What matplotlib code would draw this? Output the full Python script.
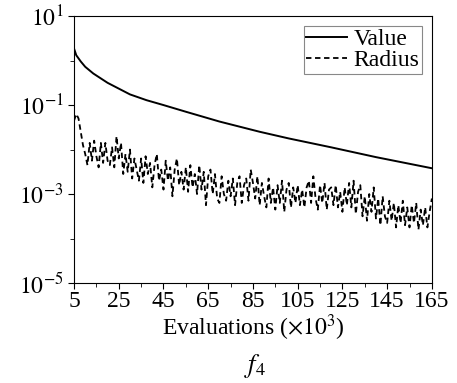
import matplotlib
matplotlib.use("Agg")
import matplotlib.pyplot as plt
import numpy as np

# evaluations (x10^3)
value_x = [5, 6, 8, 10, 13.6, 20, 30, 37.4, 45, 55, 70, 88, 101, 120, 140, 165]
value_log10 = [0.27, 0.12, -0.02, -0.14, -0.29, -0.50, -0.76, -0.89, -1.0,
               -1.15, -1.37, -1.60, -1.75, -1.95, -2.17, -2.42]

radius_x = list(range(5, 166))
radius_log10 = [
    -1.35, -1.20, -1.30, -1.60, -1.90, -2.10, -2.35, -1.85, -2.25, -1.80,
    -2.15, -2.40, -1.85, -2.30, -1.85, -2.25, -2.35, -1.95, -2.40, -1.70,
    -2.20, -1.85, -2.55, -2.10, -2.50, -2.00, -2.65, -2.20, -2.45, -2.70,
    -2.20, -2.75, -2.15, -2.55, -2.30, -2.85, -2.35, -2.10, -2.70, -2.45,
    -2.90, -2.25, -2.70, -2.40, -3.05, -2.45, -2.20, -2.80, -2.50, -2.90,
    -2.40, -2.95, -2.35, -2.85, -2.55, -3.00, -2.35, -2.90, -2.50, -3.25,
    -2.60, -2.45, -3.00, -2.55, -3.10, -3.20, -2.60, -3.00, -3.15, -2.70,
    -3.05, -2.65, -3.25, -2.75, -2.60, -3.20, -2.80, -2.65, -3.15, -2.45,
    -2.75, -3.10, -2.60, -3.25, -2.75, -3.05, -3.30, -2.65, -3.20, -2.85,
    -3.35, -2.80, -3.20, -2.70, -3.40, -2.90, -2.75, -3.30, -2.85, -3.20,
    -2.80, -3.25, -2.90, -3.30, -2.85, -2.70, -3.20, -2.60, -3.10, -3.35,
    -2.80, -3.20, -2.75, -3.35, -2.90, -2.85, -3.25, -2.80, -3.30, -2.95,
    -3.40, -2.85, -3.25, -2.75, -3.30, -2.70, -3.45, -2.95, -2.80, -3.50,
    -3.05, -3.60, -3.00, -3.40, -2.85, -3.55, -3.10, -3.70, -3.05, -3.50,
    -3.65, -3.15, -3.60, -3.20, -3.75, -3.25, -3.65, -3.15, -3.70, -3.30,
    -3.75, -3.25, -3.65, -3.20, -3.80, -3.35, -3.70, -3.30, -3.75, -3.40,
    -3.10,
]

x_ticks = [5, 25, 45, 65, 85, 105, 125, 145, 165]
y_ticks = [1e-5, 1e-3, 1e-1, 1e1]

plt.rcParams['font.family'] = 'Liberation Serif'
plt.rcParams['mathtext.fontset'] = 'stix'

fig = plt.figure(figsize=(4.57, 3.83), dpi=100)
ax = fig.add_axes([0.162, 0.261, 0.783, 0.697])

ax.plot(value_x, 10 ** np.array(value_log10), color='black', lw=1.4, label='Value')
ax.plot(radius_x, 10 ** np.array(radius_log10), color='black', lw=1.3,
        linestyle=(0, (3, 2)), label='Radius')

ax.set_yscale('log')
ax.set_xlim(5, 165)
ax.set_ylim(1e-5, 1e1)
ax.set_xticks(x_ticks)
ax.set_xticks(range(15, 165, 20), minor=True)
ax.set_yticks(y_ticks)
ax.set_yticklabels([r'$10^{-5}$', r'$10^{-3}$', r'$10^{-1}$', r'$10^{1}$'])
ax.set_yticks([1e-4, 1e-2, 1e0], minor=True)
ax.yaxis.set_minor_formatter(matplotlib.ticker.NullFormatter())
ax.tick_params(axis='both', which='major', labelsize=17, length=4, direction='out')
ax.tick_params(axis='both', which='minor', length=3, direction='out')
ax.tick_params(axis='x', pad=2)
ax.set_xlabel(r'Evaluations ($\times10^3$)', fontsize=17, labelpad=0)

leg = ax.legend(loc='upper right', fontsize=17, fancybox=False, framealpha=1,
                edgecolor='#888888', handlelength=1.7, borderpad=0.1,
                labelspacing=0.0, handletextpad=0.3, borderaxespad=0.42)
leg.get_frame().set_linewidth(0.8)

fig.text(0.557, 0.045, r'$f_4$', fontsize=19, ha='center', va='center')

fig.savefig('out.png', dpi=100)
